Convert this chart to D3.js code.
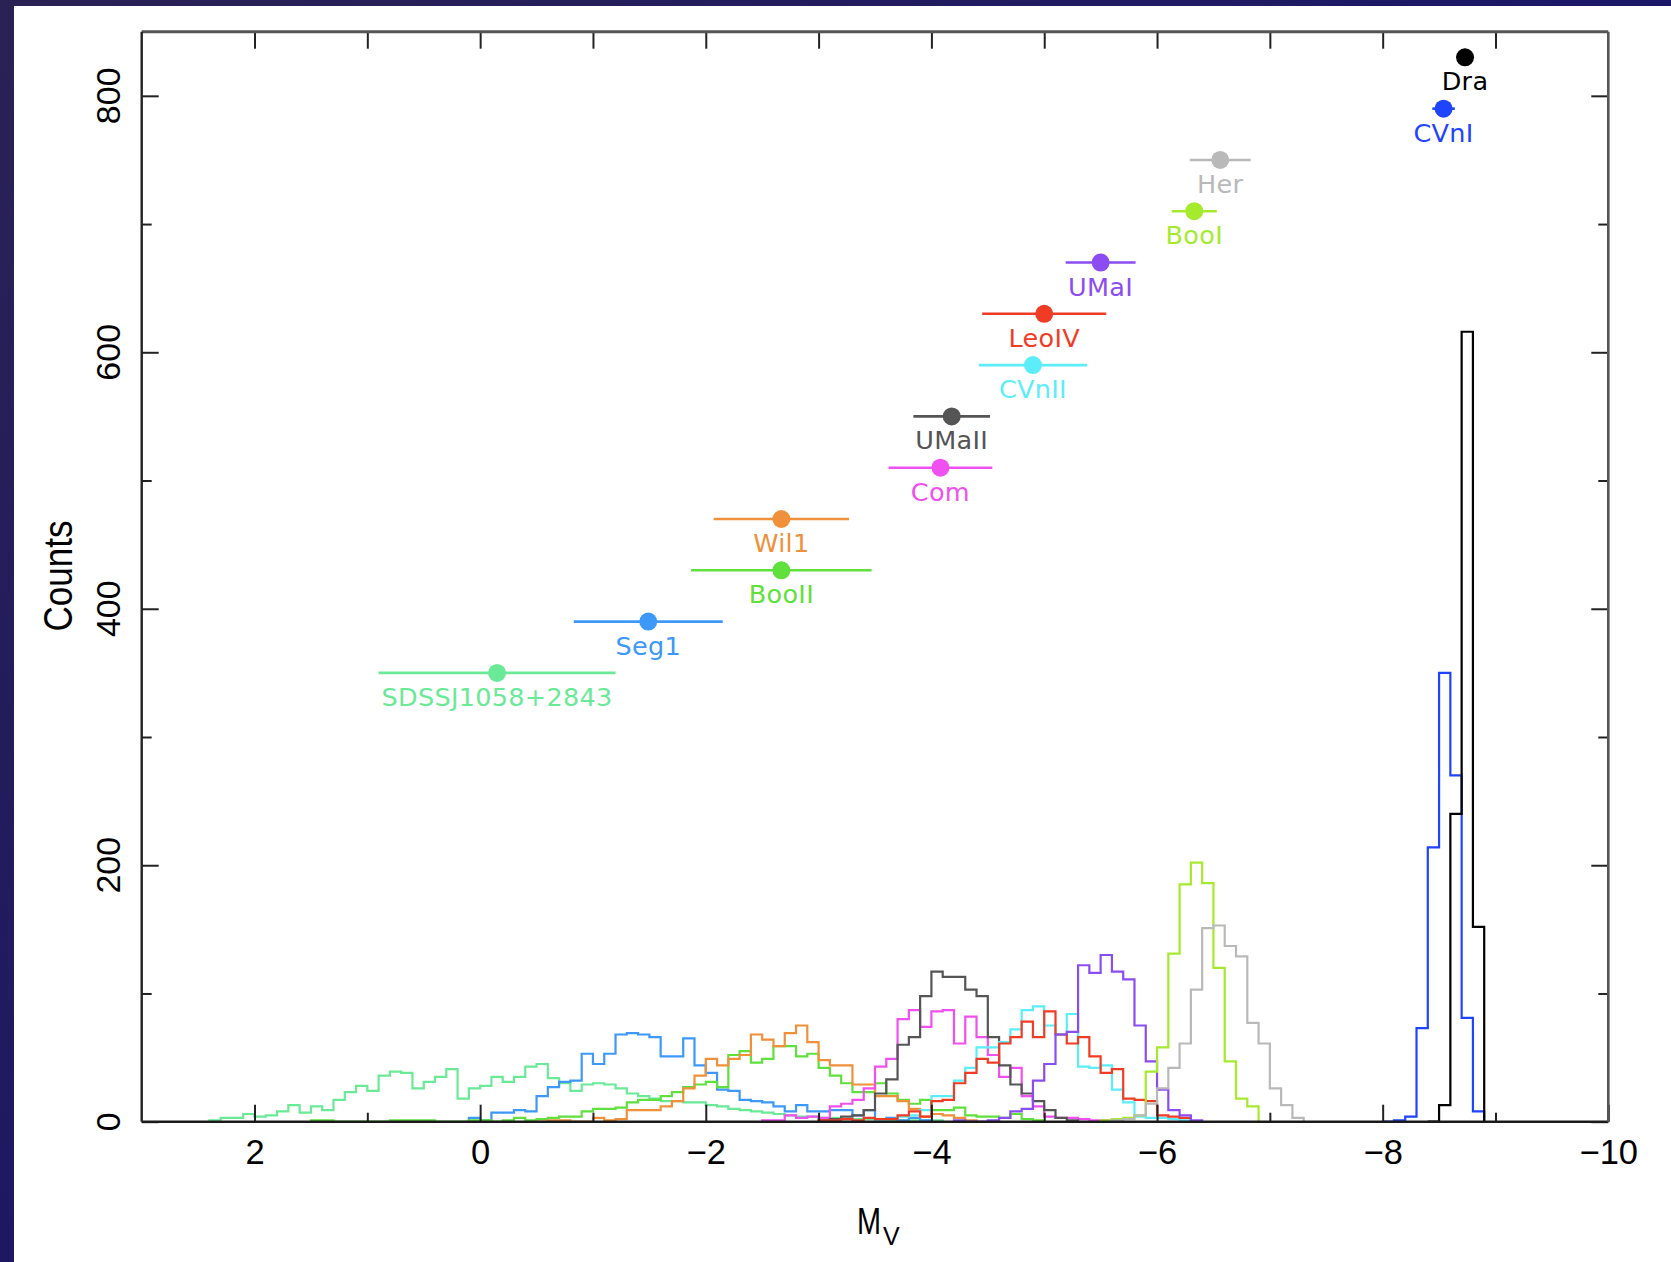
<!DOCTYPE html>
<html>
<head>
<meta charset="utf-8">
<script src="https://cdn.jsdelivr.net/npm/d3@7"></script>
<style>
  html, body { margin: 0; padding: 0; background: #ffffff; }
  svg { display: block; }
</style>
</head>
<body>
<svg id="chart" width="1671" height="1262"></svg>
<script>
// Milky Way satellites: absolute magnitude M_V with uncertainty, and the
// count level at which each galaxy's marker and name are placed.
const galaxies    = ["Dra", "CVnI", "Her", "BooI", "UMaI", "LeoIV", "CVnII", "UMaII", "Com", "Wil1", "BooII", "Seg1", "SDSSJ1058+2843"];
const mvValues    = [-8.73, -8.54, -6.56, -6.33, -5.50, -5.00, -4.90, -4.18, -4.08, -2.67, -2.67, -1.49, -0.15];
const mvErrors    = [0.00, 0.10, 0.27, 0.20, 0.31, 0.55, 0.48, 0.34, 0.46, 0.60, 0.80, 0.66, 1.05];
const markerCount = [830, 790, 750, 710, 670, 630, 590, 550, 510, 470, 430, 390, 350];
const seriesColors = ["#000000", "#1f44ff", "#b9b9b9", "#a6ea2e", "#8b4df2", "#f03c25", "#5cecfa",
                      "#555555", "#f050f0", "#f0903a", "#5fe03c", "#3d98f7", "#6ae996"];

// Simulated M_V histograms, 0.1 mag bins. Each list starts at the faint
// edge given in histStart and runs toward brighter magnitudes.
const binWidth  = 0.1;
const histStart = [-8.4, -8.0, -5.6, -5.5, -4.2, -3.0, -3.5, -3.0, -2.5, -0.5, 1.5, 0.1, 2.4];
const histDra   = [0, 13, 240, 616, 152];
const histCVnI  = [0, 1, 4, 73, 214, 350, 270, 81, 8];
const histHer   = [1, 2, 5, 14, 26, 42, 61, 103, 151, 153, 137, 129, 77, 61, 26, 13, 3];
const histBooI  = [1, 2, 3, 5, 39, 58, 131, 185, 202, 186, 120, 47, 18, 12];
const histUMaI  = [1, 0, 0, 1, 3, 8, 10, 32, 45, 68, 70, 122, 116, 130, 117, 111, 75, 47, 25, 9, 5, 1];
const histLeoIV = [1, 1, 2, 1, 3, 2, 2, 5, 8, 4, 16, 17, 30, 38, 49, 46, 61, 66, 78, 66, 86, 68, 61, 66, 51, 38, 41, 18, 17, 16, 5, 4, 3];
const histCVnII = [1, 2, 4, 5, 9, 20, 20, 32, 42, 58, 58, 62, 72, 87, 90, 75, 68, 84, 43, 42, 44, 25, 15, 4, 3, 3, 2, 1];
const histUMaII = [1, 2, 4, 5, 9, 22, 33, 60, 66, 98, 117, 113, 113, 103, 98, 66, 44, 29, 22, 16, 9, 3, 1];
const histCom   = [1, 1, 5, 3, 4, 3, 12, 14, 17, 26, 43, 49, 80, 87, 74, 86, 87, 61, 82, 66, 52, 35, 42, 20, 12, 4, 3, 3, 2, 1, 1];
const histWil1  = [0, 1, 1, 0, 0, 3, 1, 2, 9, 9, 9, 12, 16, 26, 36, 49, 44, 49, 52, 68, 64, 59, 69, 75, 62, 48, 44, 44, 29, 29, 20, 20, 16, 10, 4, 6, 5, 3, 1];
const histBooII = [1, 1, 0, 0, 0, 0, 0, 1, 1, 1, 1, 0, 0, 0,
                   1, 1, 0, 1, 3, 1, 2, 3, 4, 4, 8, 10, 10, 11, 15, 17, 17, 20, 23, 27, 29, 31, 27, 52, 55, 46, 49, 59, 59, 51, 53,
                   42, 36, 30, 23, 23, 30, 22, 17, 14, 17, 9, 9, 11, 5, 4, 4, 3, 6, 2, 1];
const histSeg1  = [3, 1, 7, 7, 9, 8, 20, 27, 31, 32, 53, 45, 53, 68, 69, 68, 66, 51, 51, 65, 44, 38, 25, 24, 17, 16, 15, 12, 8, 13, 8, 8, 9, 9, 5, 9, 1, 3, 1, 3, 1];
const histSDSS  = [1, 3, 3, 6, 4, 5, 8, 13, 7, 12, 9, 17, 23, 28, 24, 36, 39, 38, 26, 31, 35, 41, 18, 26, 28, 35, 31, 35, 43, 45, 34, 30, 24, 29, 30, 29,
                   26, 22, 20, 18, 16, 16, 15, 15, 13, 12, 10, 9, 8, 7, 6, 5, 4, 4, 3, 3, 2, 2, 2, 2, 1, 1, 1, 1, 1];
const histograms = [histDra, histCVnI, histHer, histBooI, histUMaI, histLeoIV, histCVnII,
                    histUMaII, histCom, histWil1, histBooII, histSeg1, histSDSS];

// Axis tick values
const xMajorTicks = [2, 0, -2, -4, -6, -8, -10];
const xMinorTicks = [1, -1, -3, -5, -7, -9];
const xTopTicks   = [2, 1, 0, -1, -2, -3, -4, -5, -6, -7, -8, -9];
const yMajorTicks = [0, 200, 400, 600, 800];
const yMinorTicks = [100, 300, 500, 700];

const svg = d3.select("#chart");
const W = 1671, H = 1262;
const plot = { left: 141.7, right: 1608.3, top: 31.7, bottom: 1121.7 };

const x = d3.scaleLinear().domain([3, -10]).range([plot.left, plot.right]);
const y = d3.scaleLinear().domain([0, 850]).range([plot.bottom, plot.top]);

// Page background with the dark slide border on the left and top
svg.append("rect").attr("width", W).attr("height", H).attr("fill", "#ffffff");
const defs = svg.append("defs");
const topGrad = defs.append("linearGradient").attr("id", "topBand").attr("x1", 0).attr("x2", 1).attr("y1", 0).attr("y2", 0);
topGrad.append("stop").attr("offset", 0).attr("stop-color", "#2a2254");
topGrad.append("stop").attr("offset", 1).attr("stop-color", "#1b1768");
const leftGrad = defs.append("linearGradient").attr("id", "leftBand").attr("x1", 0).attr("x2", 0).attr("y1", 0).attr("y2", 1);
leftGrad.append("stop").attr("offset", 0).attr("stop-color", "#2a2254");
leftGrad.append("stop").attr("offset", 1).attr("stop-color", "#1e1862");
svg.append("rect").attr("x", 0).attr("y", 0).attr("width", W).attr("height", 6).attr("fill", "url(#topBand)");
svg.append("rect").attr("x", 0).attr("y", 0).attr("width", 14).attr("height", H).attr("fill", "url(#leftBand)");

// Step histograms
const stepLine = d3.line()
  .x(d => x(d[0]))
  .y(d => y(d[1]))
  .curve(d3.curveStepAfter);

function histPoints(start, counts) {
  const pts = [[start, 0]];
  counts.forEach((c, i) => pts.push([+(start - i * binWidth).toFixed(2), c]));
  const end = +(start - counts.length * binWidth).toFixed(2);
  pts.push([end, counts[counts.length - 1]]);
  pts.push([end, 0]);
  return pts;
}

const histOrder = d3.range(galaxies.length).reverse();
svg.append("g").attr("class", "histograms")
  .selectAll("path")
  .data(histOrder)
  .join("path")
  .attr("d", i => stepLine(histPoints(histStart[i], histograms[i])))
  .attr("fill", "none")
  .attr("stroke", i => seriesColors[i])
  .attr("stroke-width", 2.2)
  .attr("stroke-linejoin", "miter");

// Magnitude markers with horizontal error bars and names
const marks = svg.append("g").attr("class", "markers")
  .selectAll("g")
  .data(d3.range(galaxies.length))
  .join("g");

marks.filter(i => mvErrors[i] > 0).append("line")
  .attr("x1", i => x(mvValues[i] + mvErrors[i]))
  .attr("x2", i => x(mvValues[i] - mvErrors[i]))
  .attr("y1", i => y(markerCount[i]))
  .attr("y2", i => y(markerCount[i]))
  .attr("stroke", i => seriesColors[i])
  .attr("stroke-width", 2.6);

marks.append("circle")
  .attr("cx", i => x(mvValues[i]))
  .attr("cy", i => y(markerCount[i]))
  .attr("r", 9)
  .attr("fill", i => seriesColors[i]);

marks.append("text")
  .attr("x", i => x(mvValues[i]))
  .attr("y", i => y(markerCount[i]) + 33)
  .attr("text-anchor", "middle")
  .attr("font-family", "DejaVu Sans, sans-serif")
  .attr("font-size", 25.5)
  .attr("letter-spacing", 0.3)
  .attr("fill", i => seriesColors[i])
  .text(i => galaxies[i]);

// Frame and ticks
const axisColor = "#222";
function styleAxis(g) {
  g.select(".domain").remove();
  g.selectAll(".tick line").attr("stroke", axisColor).attr("stroke-width", 2);
}

svg.append("g")
  .attr("transform", `translate(0,${plot.bottom})`)
  .call(d3.axisBottom(x).tickValues(xMajorTicks).tickSize(-17).tickPadding(18))
  .call(styleAxis)
  .call(g => g.selectAll("text")
    .attr("font-family", "Liberation Sans, Arial, sans-serif")
    .attr("font-size", 34.5)
    .attr("fill", "#000"));

svg.append("g")
  .attr("transform", `translate(0,${plot.bottom})`)
  .call(d3.axisBottom(x).tickValues(xMinorTicks).tickSize(-9).tickFormat(""))
  .call(styleAxis);

svg.append("g")
  .attr("transform", `translate(0,${plot.top})`)
  .call(d3.axisTop(x).tickValues(xTopTicks).tickSize(-17).tickFormat(""))
  .call(styleAxis);

svg.append("g")
  .attr("transform", `translate(${plot.left},0)`)
  .call(d3.axisLeft(y).tickValues(yMajorTicks).tickSize(-17).tickFormat(""))
  .call(styleAxis);
svg.append("g")
  .attr("transform", `translate(${plot.left},0)`)
  .call(d3.axisLeft(y).tickValues(yMinorTicks).tickSize(-10).tickFormat(""))
  .call(styleAxis);
svg.append("g")
  .attr("transform", `translate(${plot.right},0)`)
  .call(d3.axisRight(y).tickValues(yMajorTicks).tickSize(-17).tickFormat(""))
  .call(styleAxis);
svg.append("g")
  .attr("transform", `translate(${plot.right},0)`)
  .call(d3.axisRight(y).tickValues(yMinorTicks).tickSize(-10).tickFormat(""))
  .call(styleAxis);

// Rotated count labels on the left axis
svg.append("g").selectAll("text")
  .data(yMajorTicks)
  .join("text")
  .attr("transform", d => `translate(120,${y(d)}) rotate(-90)`)
  .attr("text-anchor", "middle")
  .attr("font-family", "Liberation Sans, Arial, sans-serif")
  .attr("font-size", 34)
  .attr("fill", "#000")
  .text(d => d3.format("d")(d));

// Plot frame
svg.append("line").attr("x1", plot.left).attr("x2", plot.right).attr("y1", plot.top).attr("y2", plot.top)
  .attr("stroke", "#555").attr("stroke-width", 3);
svg.append("line").attr("x1", plot.left).attr("x2", plot.right).attr("y1", plot.bottom).attr("y2", plot.bottom)
  .attr("stroke", "#1a1a1a").attr("stroke-width", 2.4);
svg.append("line").attr("x1", plot.left).attr("x2", plot.left).attr("y1", plot.top).attr("y2", plot.bottom)
  .attr("stroke", "#222").attr("stroke-width", 2.4);
svg.append("line").attr("x1", plot.right).attr("x2", plot.right).attr("y1", plot.top).attr("y2", plot.bottom)
  .attr("stroke", "#555").attr("stroke-width", 2.6);

// Axis titles
svg.append("text")
  .attr("transform", "translate(72,576) rotate(-90) scale(0.875,1)")
  .attr("text-anchor", "middle")
  .attr("font-family", "Liberation Sans, Arial, sans-serif")
  .attr("font-size", 40)
  .attr("fill", "#000")
  .text("Counts");

svg.append("text")
  .attr("transform", "translate(857,1234) scale(0.78,1)")
  .attr("font-family", "Liberation Sans, Arial, sans-serif")
  .attr("font-size", 37)
  .attr("fill", "#000")
  .text("M");
svg.append("text")
  .attr("x", 883).attr("y", 1245)
  .attr("font-family", "Liberation Sans, Arial, sans-serif")
  .attr("font-size", 25)
  .attr("fill", "#000")
  .text("V");
</script>
</body>
</html>
